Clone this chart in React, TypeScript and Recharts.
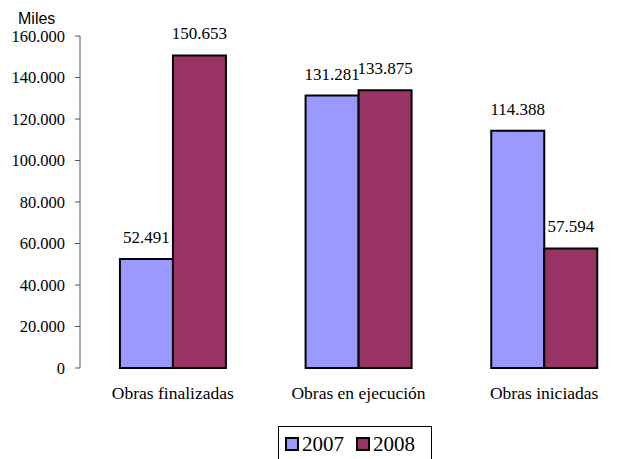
import { BarChart, Bar, XAxis, YAxis, LabelList } from 'recharts';

const categories = ['Obras finalizadas', 'Obras en ejecución', 'Obras iniciadas'];
const series2007 = [52491, 131281, 114388];
const series2008 = [150653, 133875, 57594];
const yTicks = [0, 20000, 40000, 60000, 80000, 100000, 120000, 140000, 160000];
const seriesNames = ['2007', '2008'];
const seriesColors = ['#9999FF', '#993366'];

const serif = '"Liberation Serif", "Times New Roman", serif';

const chartData = categories.map((name, i) => ({
  name,
  idx: i + 0.5,
  y2007: series2007[i],
  y2008: series2008[i],
}));

// thousands with a dot, e.g. 150.653
const fmt = (v: number) => Number(v).toLocaleString('de-DE');

const labelStyle = { fontFamily: serif, fontSize: 17, fill: '#000' };

export default function App() {
  return (
    <div
      style={{
        position: 'absolute',
        left: 0,
        top: 0,
        width: 630,
        height: 459,
        overflow: 'hidden',
        background: '#fff',
      }}
    >
      <div
        style={{
          position: 'absolute',
          left: 18,
          top: 10,
          fontFamily: '"Liberation Sans", Arial, sans-serif',
          fontSize: 16,
          lineHeight: '18px',
          color: '#000',
        }}
      >
        Miles
      </div>
      <BarChart
        width={640}
        height={459}
        data={chartData}
        margin={{ top: 36, right: 3, bottom: 61, left: 0 }}
        barCategoryGap="21.5%"
        barGap={0}
      >
        {/* boundary ticks between categories */}
        <XAxis
          xAxisId="edges"
          type="number"
          dataKey="idx"
          domain={[0, 3]}
          ticks={[0, 1, 2, 3]}
          tick={false}
          tickSize={5}
          height={0}
          stroke="#555"
          allowDataOverflow
        />
        <XAxis
          xAxisId="cat"
          dataKey="name"
          axisLine={false}
          tickLine={false}
          height={30}
          tickMargin={13}
          tick={{ fontFamily: serif, fontSize: 17.5, fill: '#000' }}
        />
        <YAxis
          width={80}
          domain={[0, 160000]}
          ticks={yTicks}
          interval={0}
          tickFormatter={fmt}
          tickSize={5}
          tickMargin={10}
          stroke="#555"
          tick={{ fontFamily: serif, fontSize: 16.5, fill: '#000' }}
        />
        <Bar
          xAxisId="cat"
          dataKey="y2007"
          fill={seriesColors[0]}
          stroke="#000"
          strokeWidth={2}
          isAnimationActive={false}
        >
          <LabelList dataKey="y2007" position="top" offset={16} formatter={fmt} style={labelStyle} />
        </Bar>
        <Bar
          xAxisId="cat"
          dataKey="y2008"
          fill={seriesColors[1]}
          stroke="#000"
          strokeWidth={2}
          isAnimationActive={false}
        >
          <LabelList dataKey="y2008" position="top" offset={16} formatter={fmt} style={labelStyle} />
        </Bar>
      </BarChart>
      <div
        style={{
          position: 'absolute',
          left: 278,
          top: 426,
          width: 154,
          height: 40,
          border: '1px solid #000',
          boxSizing: 'border-box',
          display: 'flex',
          alignItems: 'flex-start',
          paddingTop: 5,
          paddingLeft: 6,
          fontFamily: serif,
          fontSize: 21,
          lineHeight: '24px',
          color: '#000',
        }}
      >
        {seriesNames.map((n, i) => (
          <div key={n} style={{ display: 'flex', alignItems: 'center', marginRight: 12 }}>
            <span
              style={{
                display: 'inline-block',
                width: 14,
                height: 14,
                boxSizing: 'border-box',
                border: '2px solid #000',
                background: seriesColors[i],
                marginRight: 3,
              }}
            />
            <span>{n}</span>
          </div>
        ))}
      </div>
    </div>
  );
}
